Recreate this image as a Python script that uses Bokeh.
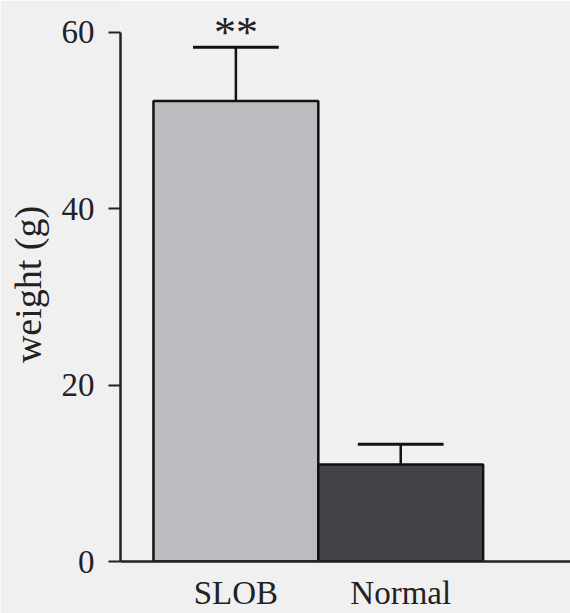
from bokeh.plotting import figure
from bokeh.models import Range1d, FixedTicker, ColumnDataSource
from bokeh.core.properties import value
from bokeh.embed import file_html
from bokeh.resources import INLINE

categories = ["SLOB", "Normal"]
weights = [52.2, 11.0]
errors = [6.1, 2.3]
bar_colors = ["#bcbcc0", "#434349"]
y_ticks = [0, 20, 40, 60]
significance = ["**", ""]

xs = list(range(len(categories)))
tops = [w + e for w, e in zip(weights, errors)]

BG = "#f0f0f0"
FONT = "Liberation Serif"

p = figure(width=570, height=613, output_backend="svg", toolbar_location=None,
           x_range=Range1d(-0.70, 2.03), y_range=Range1d(0, 62.8),
           min_border_left=120, min_border_right=0, min_border_top=7, min_border_bottom=51)
p.background_fill_color = BG
p.border_fill_color = BG
p.outline_line_color = None
p.xgrid.visible = False
p.ygrid.visible = False

src = ColumnDataSource(dict(x=xs, top=weights, color=bar_colors))
p.vbar(x="x", top="top", width=1.0, bottom=0, source=src, fill_color="color",
       line_color="#111111", line_width=2.5)

# error bars
p.segment(x0=xs, y0=weights, x1=xs, y1=tops, line_color="#111111", line_width=2.5)
cap = 0.52
p.segment(x0=[x - cap / 2 for x in xs], y0=tops, x1=[x + cap / 2 for x in xs], y1=tops,
          line_color="#111111", line_width=3)

p.text(x=xs, y=[t - 1.1 for t in tops], text=significance, text_align="center",
       text_baseline="bottom", text_font=value(FONT), text_font_size="44px",
       text_color="#222222")

# y axis
ya = p.yaxis[0]
ya.ticker = FixedTicker(ticks=y_ticks)
ya.bounds = (0, 60)
ya.axis_line_width = 2.5
ya.axis_line_color = "#222222"
ya.major_tick_line_width = 2
ya.major_tick_line_color = "#222222"
ya.major_tick_out = 12
ya.major_tick_in = 0
ya.minor_tick_line_color = None
ya.major_label_text_font = FONT
ya.major_label_text_font_size = "33px"
ya.major_label_text_color = "#222222"
ya.major_label_standoff = 14
ya.axis_label = "weight (g)"
ya.axis_label_text_font = FONT
ya.axis_label_text_font_size = "38px"
ya.axis_label_text_font_style = "normal"
ya.axis_label_text_color = "#222222"
ya.axis_label_standoff = 10

# x axis
xa = p.xaxis[0]
xa.ticker = FixedTicker(ticks=xs)
xa.major_label_overrides = {x: c for x, c in zip(xs, categories)}
xa.axis_line_width = 2.5
xa.axis_line_color = "#222222"
xa.major_tick_line_color = None
xa.minor_tick_line_color = None
xa.major_label_text_font = FONT
xa.major_label_text_font_size = "33px"
xa.major_label_text_color = "#222222"
xa.major_label_standoff = 7

open("out.html", "w").write(file_html(p, INLINE))
